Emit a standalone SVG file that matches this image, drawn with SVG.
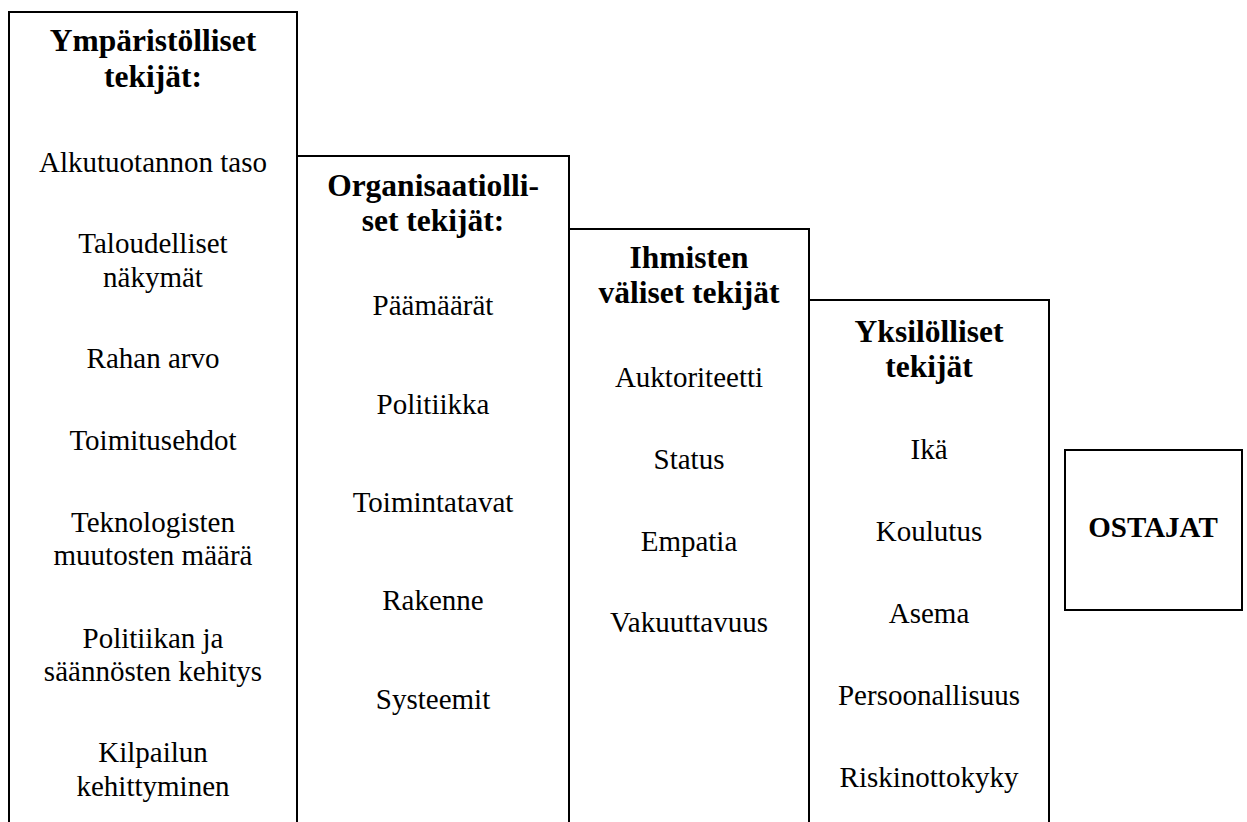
<svg xmlns="http://www.w3.org/2000/svg" width="1247" height="822" viewBox="0 0 1247 822">
<style>
rect{fill:#fff;stroke:#000;stroke-width:2}
text{font-family:"Liberation Serif","Times New Roman",serif;text-anchor:middle;fill:#000}
.t{font-size:31.5px;font-weight:bold}
.i{font-size:29px}
.o{font-size:29px;font-weight:bold}
</style>
<rect width="1247" height="822" style="stroke:none"/>
<g id="connectors"></g>
<g id="ymparistolliset">
<rect x="9" y="12" width="288" height="830"/>
<text class="t" x="153" y="51">Ympäristölliset</text>
<text class="t" x="153" y="87">tekijät:</text>
<text class="i" x="153" y="172">Alkutuotannon taso</text>
<text class="i" x="153" y="253">Taloudelliset</text>
<text class="i" x="153" y="287">näkymät</text>
<text class="i" x="153" y="368">Rahan arvo</text>
<text class="i" x="153" y="450">Toimitusehdot</text>
<text class="i" x="153" y="532">Teknologisten</text>
<text class="i" x="153" y="565">muutosten määrä</text>
<text class="i" x="153" y="648">Politiikan ja</text>
<text class="i" x="153" y="681">säännösten kehitys</text>
<text class="i" x="153" y="762">Kilpailun</text>
<text class="i" x="153" y="796">kehittyminen</text>
</g>
<g id="organisaatiolliset">
<rect x="297" y="156" width="272" height="690"/>
<text class="t" x="433" y="196">Organisaatiolli-</text>
<text class="t" x="433" y="231">set tekijät:</text>
<text class="i" x="433" y="315">Päämäärät</text>
<text class="i" x="433" y="414">Politiikka</text>
<text class="i" x="433" y="512">Toimintatavat</text>
<text class="i" x="433" y="610">Rakenne</text>
<text class="i" x="433" y="709">Systeemit</text>
</g>
<g id="ihmistenvaliset">
<rect x="569" y="229" width="240" height="620"/>
<text class="t" x="689" y="268">Ihmisten</text>
<text class="t" x="689" y="303">väliset tekijät</text>
<text class="i" x="689" y="387">Auktoriteetti</text>
<text class="i" x="689" y="469">Status</text>
<text class="i" x="689" y="551">Empatia</text>
<text class="i" x="689" y="632">Vakuuttavuus</text>
</g>
<g id="yksilolliset">
<rect x="809" y="300" width="240" height="550"/>
<text class="t" x="929" y="342">Yksilölliset</text>
<text class="t" x="929" y="377">tekijät</text>
<text class="i" x="929" y="459">Ikä</text>
<text class="i" x="929" y="541">Koulutus</text>
<text class="i" x="929" y="623">Asema</text>
<text class="i" x="929" y="705">Persoonallisuus</text>
<text class="i" x="929" y="787">Riskinottokyky</text>
</g>
<g id="ostajat">
<rect x="1065" y="450" width="177" height="160"/>
<text class="o" x="1153" y="537">OSTAJAT</text>
</g>
</svg>
